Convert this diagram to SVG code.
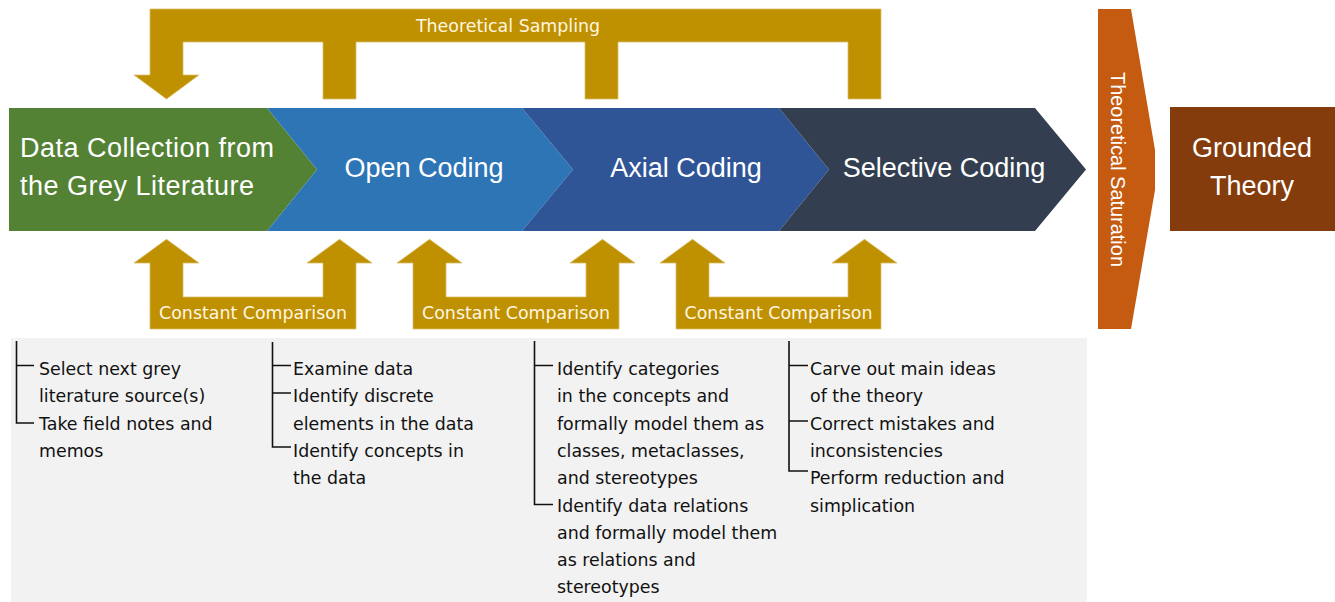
<svg xmlns="http://www.w3.org/2000/svg" width="1335" height="602" viewBox="0 0 1335 602">
<style>
.gold{fill:#BF9000;stroke:#D9BE6A;stroke-width:0.8}
.gl{font-family:"DejaVu Sans",Verdana,sans-serif;font-size:17.4px;fill:#FFF6E0;text-anchor:middle}
.big{font-family:"Liberation Sans",Arial,sans-serif;font-size:27px;fill:#FFFFFF}
.mid{text-anchor:middle}
.li{font-family:"DejaVu Sans",Verdana,sans-serif;font-size:17.4px;fill:#111111}
.tree{fill:none;stroke:#111111;stroke-width:1.6}
</style>
<rect x="0" y="0" width="1335" height="602" fill="#FFFFFF"/>
<g id="panel">
<rect x="11" y="338" width="1076" height="264" fill="#F2F2F2"/>
</g>
<g id="connectors">
<g id="theoretical-sampling">
<path class="gold" d="M150,9 H881 V99 H848 V42 H618 V99 H585 V42 H356 V99 H323 V42 H183 V75 H199 L166.5,99 L134,75 H150 Z"/>
<text class="gl" x="508" y="32">Theoretical Sampling</text>
</g>
<g id="cc1">
<path class="gold" d="M150,329 V263 H134 L166.5,239.3 L199,263 H183 V297 H323 V263 H307 L339.5,239.3 L372,263 H356 V329 Z"/>
<text class="gl" x="253" y="319">Constant Comparison</text>
</g>
<g id="cc2">
<path class="gold" d="M413,329 V263 H397 L429.5,239.3 L462,263 H446 V297 H586 V263 H570 L602.5,239.3 L635,263 H619 V329 Z"/>
<text class="gl" x="516" y="319">Constant Comparison</text>
</g>
<g id="cc3">
<path class="gold" d="M676,329 V263 H660 L692.5,239.3 L725,263 H709 V297 H848 V263 H832 L864.5,239.3 L897,263 H881 V329 Z"/>
<text class="gl" x="778.5" y="319">Constant Comparison</text>
</g>
</g>
<g id="data-collection">
<polygon points="9,108 267,108 317,169.5 267,231 9,231" fill="#548235"/>
<text class="big" x="20" y="157" textLength="254">Data Collection from</text>
<text class="big" x="20" y="195" textLength="234">the Grey Literature</text>
</g>
<g id="open-coding">
<polygon points="267,108 522,108 573,169.5 522,231 267,231 317,169.5" fill="#2E75B6"/>
<text class="big mid" x="424" y="176.5">Open Coding</text>
</g>
<g id="axial-coding">
<polygon points="522,108 779,108 829,169.5 779,231 522,231 573,169.5" fill="#2F5597"/>
<text class="big mid" x="686" y="176.5">Axial Coding</text>
</g>
<g id="selective-coding">
<polygon points="779,108 1035,108 1086,169.5 1035,231 779,231 829,169.5" fill="#333F50"/>
<text class="big mid" x="944" y="176.5">Selective Coding</text>
</g>
<g id="theoretical-saturation">
<polygon points="1098,9 1131,9 1155,150 1155,190 1131,329 1098,329" fill="#C55A11"/>
<text transform="translate(1110.5,169.5) rotate(90)" x="0" y="0" font-family="Liberation Sans, Arial, sans-serif" font-size="20" fill="#FFFFFF" text-anchor="middle" textLength="195">Theoretical Saturation</text>
</g>
<g id="grounded-theory">
<rect x="1170" y="107" width="165" height="124" fill="#843C0C"/>
<text class="big mid" x="1252" y="157">Grounded</text>
<text class="big mid" x="1252" y="195">Theory</text>
</g>
<g id="list-data-collection">
<path class="tree" d="M16.5,341 V423 H34 M16.5,365.5 H34"/>
<text class="li" x="39" y="375">Select next grey</text>
<text class="li" x="39" y="402.3">literature source(s)</text>
<text class="li" x="39" y="429.6">Take field notes and</text>
<text class="li" x="39" y="456.9">memos</text>
</g>
<g id="list-open-coding">
<path class="tree" d="M272.5,342 V447 H291 M272.5,365.5 H291 M272.5,393 H291"/>
<text class="li" x="293" y="375">Examine data</text>
<text class="li" x="293" y="402.3">Identify discrete</text>
<text class="li" x="293" y="429.6">elements in the data</text>
<text class="li" x="293" y="456.9">Identify concepts in</text>
<text class="li" x="293" y="484.2">the data</text>
</g>
<g id="list-axial-coding">
<path class="tree" d="M534.5,341 V504.5 H553 M534.5,365.5 H553"/>
<text class="li" x="557" y="375">Identify categories</text>
<text class="li" x="557" y="402.3">in the concepts and</text>
<text class="li" x="557" y="429.6">formally model them as</text>
<text class="li" x="557" y="456.9">classes, metaclasses,</text>
<text class="li" x="557" y="484.2">and stereotypes</text>
<text class="li" x="557" y="511.5">Identify data relations</text>
<text class="li" x="557" y="538.8">and formally model them</text>
<text class="li" x="557" y="566.1">as relations and</text>
<text class="li" x="557" y="593.4">stereotypes</text>
</g>
<g id="list-selective-coding">
<path class="tree" d="M789,341 V471 H808 M789,365.5 H808 M789,421 H808"/>
<text class="li" x="810" y="375">Carve out main ideas</text>
<text class="li" x="810" y="402.3">of the theory</text>
<text class="li" x="810" y="429.6">Correct mistakes and</text>
<text class="li" x="810" y="456.9">inconsistencies</text>
<text class="li" x="810" y="484.2">Perform reduction and</text>
<text class="li" x="810" y="511.5">simplication</text>
</g>
</svg>
